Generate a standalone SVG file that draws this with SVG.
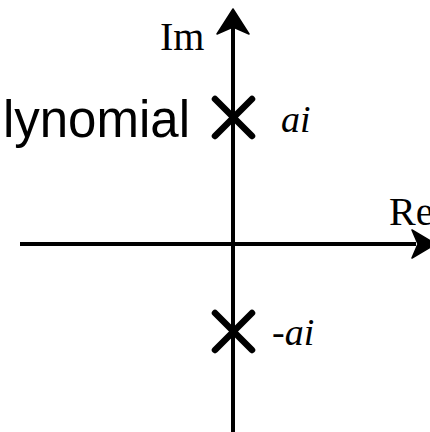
<svg xmlns="http://www.w3.org/2000/svg" width="430" height="432" viewBox="0 0 430 432">
<style>
.axis{stroke:#000;stroke-width:4;fill:none}
.cross{stroke:#000;stroke-width:6.5;stroke-linecap:round;fill:none}
.serif{font-family:"Liberation Serif",serif;font-size:40px;fill:#000}
.it{font-family:"Liberation Serif",serif;font-style:italic;font-size:38px;fill:#000}
.sans{font-family:"Liberation Sans",sans-serif;font-size:51px;fill:#000}
.head{fill:#000;stroke:#000;stroke-width:1.5;stroke-linejoin:round}
</style>
<rect width="430" height="432" fill="#fff"/>
<g id="connectors">
<line class="axis" x1="233" y1="432" x2="233" y2="28"/>
<path class="head" d="M233,9 L249,34 L233,27 L217,34 Z"/>
<line class="axis" x1="20" y1="244" x2="416" y2="244"/>
<path class="head" d="M436,244 L412,258 L418,244 L412,230 Z"/>
</g>
<g id="labels">
<text class="serif" x="160" y="50">Im</text>
<text class="serif" x="389" y="225">Re</text>
<text class="sans" x="190" y="137" text-anchor="end">lynomial</text>
</g>
<g id="pole-upper">
<path class="cross" d="M215,99 L252,136 M252,99 L215,136"/>
<text class="it" x="281" y="132">ai</text>
</g>
<g id="pole-lower">
<path class="cross" d="M215,313 L252,350 M252,313 L215,350"/>
<text class="it" x="272" y="345">-ai</text>
</g>
</svg>
